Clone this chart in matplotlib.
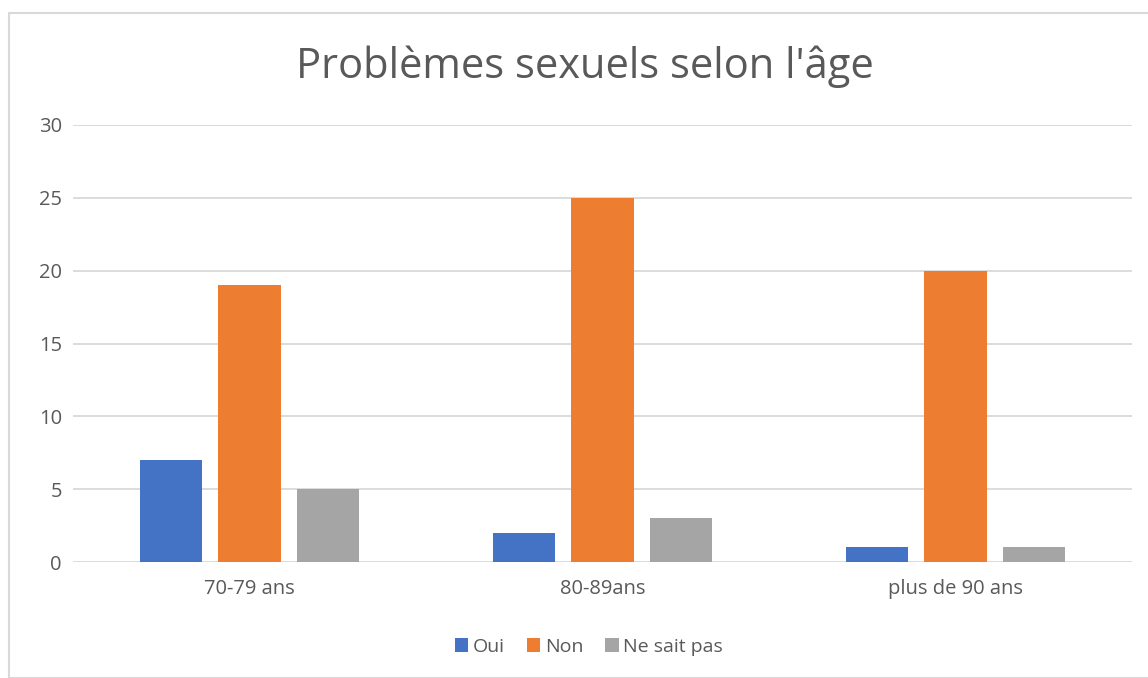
import matplotlib
matplotlib.use("Agg")
import matplotlib.pyplot as plt
import numpy as np
from matplotlib.patches import Rectangle

categories = ["70-79 ans", "80-89ans", "plus de 90 ans"]
series_names = ["Oui", "Non", "Ne sait pas"]
oui = [7, 2, 1]
non = [19, 25, 20]
nsp = [5, 3, 1]
colors = ["#4472C4", "#ED7D31", "#A5A5A5"]
title = "Problèmes sexuels selon l'âge"

plt.rcParams['font.family'] = ['Open Sans', 'DejaVu Sans']
txt = "#595959"

fig = plt.figure(figsize=(11.48, 6.78), dpi=100)
ax = fig.add_axes([73/1148, 1-562/678, (1132-73)/1148, (562-125)/678])

x = np.arange(len(categories))
w = 0.176
step = 0.222
for i, (vals, name) in enumerate(zip([oui, non, nsp], series_names)):
    ax.bar(x + (i-1)*step, vals, width=w, color=colors[i], label=name, zorder=3)

ax.set_xlim(-0.5, 2.5)
ax.set_ylim(0, 30)
ax.set_yticks(range(0, 31, 5))
ax.yaxis.grid(True, color="#d9d9d9", linewidth=1.3, zorder=0)
ax.set_axisbelow(True)
for s in ax.spines.values():
    s.set_visible(False)
ax.tick_params(axis='both', length=0, labelsize=14.5, labelcolor=txt)
ax.tick_params(axis='y', pad=8)
ax.tick_params(axis='x', pad=12)
ax.set_xticks(x)
ax.set_xticklabels(categories)

fig.text(585/1148, 1-67/678, title, ha='center', va='center', fontsize=30, color=txt)

leg = fig.legend(loc='center', bbox_to_anchor=(589/1148, 1-647/678), ncol=3, frameon=False,
                 fontsize=14, handlelength=0.7, handleheight=0.7, handletextpad=0.25,
                 columnspacing=1.1)
for t in leg.get_texts():
    t.set_color(txt)

fig.patches.append(Rectangle((8.5/1148, 0), 2, 1-12.5/678, transform=fig.transFigure,
                             fill=False, edgecolor="#d9d9d9", linewidth=1.5))

fig.savefig("out.png", dpi=100)
